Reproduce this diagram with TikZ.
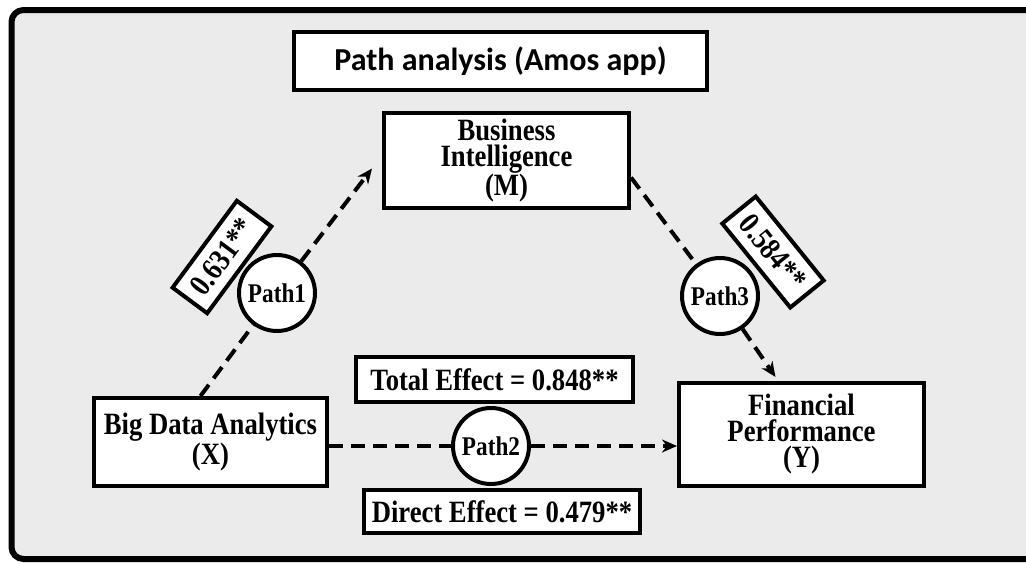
\documentclass[tikz,border=0pt]{standalone}
\usepackage{fontspec}
\setmainfont[FakeStretch=0.86]{Liberation Serif}
\newfontfamily\titlefont{Carlito}
\usetikzlibrary{arrows.meta}

\tikzstyle{box} = [draw, line width=4pt, fill=white, align=center, inner sep=0pt, font=\fontsize{31}{26}\selectfont\bfseries]
\tikzstyle{pathnode} = [draw, circle, line width=4pt, fill=white, minimum size=76pt, inner sep=0pt, font=\fontsize{27}{26}\selectfont\bfseries]
\tikzstyle{line} = [draw, line width=4pt, dash pattern=on 14pt off 8pt]
\tikzstyle{arrow} = [line, -{Stealth[length=15pt,width=13pt]}]

\begin{document}
\begin{tikzpicture}[x=1pt,y=-1pt]
\useasboundingbox (0,0) rectangle (1026,563);
\clip (0,0) rectangle (1026,563);
%frame
\draw[line width=6pt, fill=black!8, rounded corners=12pt] (11.5,10) rectangle (1100,559);

%boxes
\node[box, font=\titlefont\fontsize{32}{32}\selectfont\bfseries, minimum width=413pt, minimum height=58pt] (title) at (500.5,61) {Path analysis (Amos app)};
\node[box, minimum width=245pt, minimum height=95pt] (bi) at (506.5,160.5) {Business\\Intelligence\\(M)};
\node[box, minimum width=233pt, minimum height=88pt] (bda) at (210.5,442) {Big Data Analytics\\(X)};
\node[box, minimum width=245pt, minimum height=103pt] (fp) at (801.5,434.5) {Financial\\Performance\\(Y)};
\node[box, minimum width=277pt, minimum height=45pt] (total) at (494.5,379.5) {Total Effect = 0.848**};
\node[box, minimum width=276pt, minimum height=43pt] (direct) at (502,511.5) {Direct Effect = 0.479**};

%coefficients
\node[box, rotate=53.5, minimum width=108pt, minimum height=43pt] (coef1) at (222,257) {0.631**};
\node[box, rotate=-51, minimum width=108pt, minimum height=43pt] (coef3) at (773,252) {0.584**};

%paths
\node[pathnode] (path1) at (277,293) {Path1};
\node[pathnode] (path2) at (491,446) {Path2};
\node[pathnode] (path3) at (720,296) {Path3};

%lines
\path [line] ([xshift=-10pt]bda.north) -- (path1);
\path [arrow] (path1) -- ([shift={(-10pt,-8pt)}]bi.west);
\path [line] (bda.east |- path2) -- (path2);
\path [arrow] (path2) -- (fp.west |- path2);
\path [line] ([yshift=-17pt]bi.east) -- (path3);
\path [arrow] (path3) -- ([shift={(-26pt,4pt)}]fp.north);
\end{tikzpicture}
\end{document}
